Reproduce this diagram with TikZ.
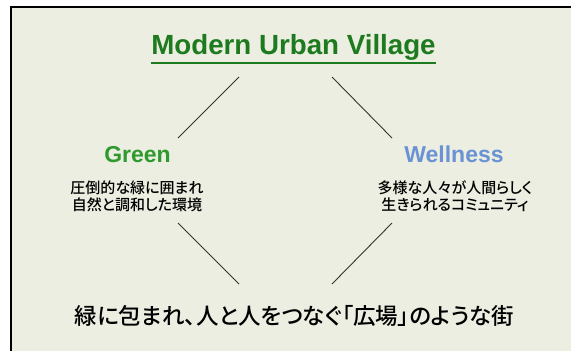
\documentclass[tikz,border=0pt]{standalone}
\usepackage{fontspec}
\setmainfont{Liberation Sans}
\newfontfamily\jpfont[RawFeature=+palt, UprightFont=* Medium]{Noto Sans CJK JP}
\usepackage{xcolor}
\definecolor{paper}{HTML}{EBEEE0}
\definecolor{titlegreen}{HTML}{1E7A1E}
\definecolor{leafgreen}{HTML}{2E9A2E}
\definecolor{wellblue}{HTML}{6A92D4}
\tikzset{link/.style={draw=black!80, line width=0.9pt}}

\begin{document}
\begin{tikzpicture}[x=1pt, y=-1pt,
  head/.style={font=\bfseries\fontsize{23}{27}\selectfont, inner sep=0pt},
  desc/.style={font=\jpfont\fontsize{15}{17}\selectfont, align=center, inner sep=0pt}]
\useasboundingbox (0,0) rectangle (571,351);
% panel
\fill[paper] (11,7) rectangle (571,351);
\draw[line width=2pt] (571,7) -- (11,7) -- (11,351);
% title
\node[anchor=base, inner sep=0pt, text=titlegreen, font=\bfseries\fontsize{27.7}{32}\selectfont] (title) at (293.5,54) {Modern Urban Village};
\draw[titlegreen, line width=1.5pt] ([yshift=-9pt]title.base west) -- ([yshift=-9pt]title.base east);
% Green
\node[head, anchor=base, text=leafgreen] (green) at (137.5,162) {Green};
\node[desc] (greendesc) at (137,196) {圧倒的な緑に囲まれ\\自然と調和した環境};
% Wellness
\node[head, anchor=base, text=wellblue] (wellness) at (454,162) {Wellness};
\node[desc] (wellnessdesc) at (455,196) {多様な人々が人間らしく\\生きられるコミュニティ};
% bottom line
\node[font=\jpfont\fontsize{22.5}{26}\selectfont, inner sep=0pt] (town) at (294.5,316) {緑に包まれ、人と人をつなぐ「広場」のような街};
% links
\draw[link] ([shift={(-54.5,23)}]title.base) -- ([shift={(40.5,-24)}]green.base);
\draw[link] ([shift={(38.5,23)}]title.base) -- ([shift={(-62,-24)}]wellness.base);
\draw[link] ([shift={(41,27)}]greendesc.center) -- ([shift={(-55.5,-32)}]town.center);
\draw[link] ([shift={(-63,27)}]wellnessdesc.center) -- ([shift={(37.5,-32)}]town.center);
\end{tikzpicture}
\end{document}
